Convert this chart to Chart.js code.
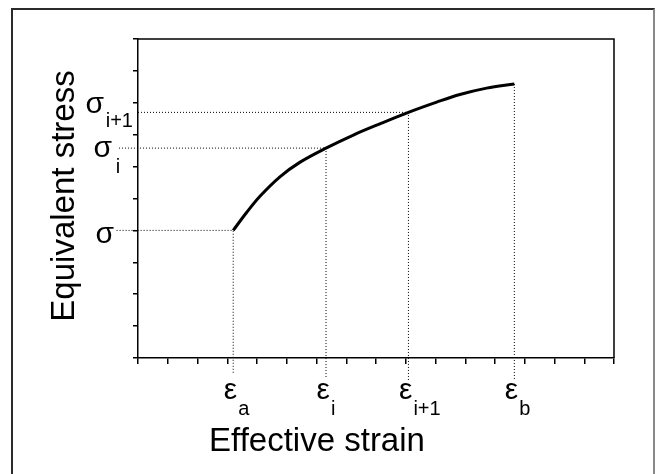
<!DOCTYPE html>
<html><head><meta charset="utf-8">
<script src="https://cdn.jsdelivr.net/npm/chart.js@4.4.0/dist/chart.umd.min.js"></script>
<style>
html,body{margin:0;padding:0;background:#fff;}
#wrap{position:relative;width:656px;height:474px;overflow:hidden;background:#fff;}
#frame{position:absolute;left:11px;top:8px;width:644px;height:480px;border:2px solid #2a2a2a;border-right-color:#888;box-sizing:border-box;}
canvas{position:absolute;left:0;top:0;}
</style></head><body>
<div id="wrap"><div id="frame"></div><canvas id="c" width="656" height="474"></canvas></div>
<script>
// ---- data ----
const strain = [3.20, 3.65, 4.10, 4.77, 5.45, 6.32, 7.24, 8.13, 9.09, 10.04, 10.82, 11.72, 12.65];
const stress = [4.00, 4.56, 5.07, 5.68, 6.14, 6.58, 6.99, 7.34, 7.70, 8.02, 8.26, 8.46, 8.59];
const strainMarks = [3.20, 6.32, 9.09, 12.65];
const strainSubs = ['a', 'i', 'i+1', 'b'];
const stressMarks = [4.00, 6.58, 7.70];
const stressSubs = ['', 'i', 'i+1'];
const xTitle = 'Effective strain';
const yTitle = 'Equivalent stress';
const xRange = [0, 16];
const yRange = [0, 10];

// ---- styling (guide extents beyond the axes) ----
const guideStartX = [-0.72, -0.64, 0];
const guideEndY = [-0.47, -0.66, -0.7, -0.66];
const FONT = '"Liberation Sans", Arial, sans-serif';

const curve = {
  data: strain.map((x, i) => ({x, y: stress[i]})),
  borderColor: '#000', borderWidth: 3, pointRadius: 0,
  tension: 0.35, fill: false, borderCapStyle: 'butt', borderJoinStyle: 'round'
};
const guides = strainMarks.map((e, k) => {
  const pts = [];
  const s = k < stressMarks.length ? stressMarks[k] : stress[stress.length - 1];
  if (k < stressMarks.length) pts.push({x: guideStartX[k], y: s});
  pts.push({x: e, y: s});
  pts.push({x: e, y: guideEndY[k]});
  return {data: pts, borderColor: '#000', borderWidth: 1, borderDash: [1, 2],
          pointRadius: 0, tension: 0, clip: false, fill: false};
});

const framePlugin = {
  id: 'frame',
  beforeDatasetsDraw(chart) {
    const {ctx, chartArea: a} = chart;
    ctx.save();
    ctx.strokeStyle = '#000'; ctx.lineWidth = 1.5;
    ctx.beginPath();
    ctx.moveTo(a.left, a.top); ctx.lineTo(a.right, a.top); ctx.lineTo(a.right, a.bottom);
    ctx.stroke();
    ctx.restore();
  }
};

const labelPlugin = {
  id: 'labels',
  afterDraw(chart) {
    const ctx = chart.ctx, xs = chart.scales.x, ys = chart.scales.y, a = chart.chartArea;
    ctx.save();
    ctx.fillStyle = '#000'; ctx.textBaseline = 'alphabetic'; ctx.textAlign = 'left';
    strainMarks.forEach((v, k) => {
      const px = xs.getPixelForValue(v);
      ctx.font = '30px ' + FONT;
      ctx.fillText('\u03B5', px - 9.5, a.bottom + 41);
      ctx.font = '20px ' + FONT;
      ctx.fillText(strainSubs[k], px + 5, a.bottom + 57);
    });
    const off = [[-42.5, 13, 0, 0], [-44.5, 9, -22.3, 25], [-52.5, 1, -32.3, 15]];
    stressMarks.forEach((v, k) => {
      const py = ys.getPixelForValue(v);
      const o = off[k];
      ctx.font = '30px ' + FONT;
      ctx.fillText('\u03C3', a.left + o[0], py + o[1]);
      if (stressSubs[k]) {
        ctx.font = '20px ' + FONT;
        ctx.fillText(stressSubs[k], a.left + o[2], py + o[3]);
      }
    });
    ctx.font = '33px ' + FONT;
    ctx.textAlign = 'center';
    ctx.fillText(xTitle, a.left + 179, a.bottom + 93);
    ctx.translate(a.left - 64, a.top + 157);
    ctx.rotate(-Math.PI / 2);
    ctx.fillText(yTitle, 0, 0);
    ctx.restore();
  }
};

new Chart(document.getElementById('c'), {
  type: 'line',
  data: {datasets: [curve, ...guides]},
  options: {
    responsive: false, animation: false, devicePixelRatio: 1,
    layout: {padding: {top: 39, right: 42, left: 0, bottom: 0}},
    plugins: {legend: {display: false}, tooltip: {enabled: false}},
    scales: {
      x: {
        type: 'linear', min: xRange[0], max: xRange[1],
        afterFit(s) { s.height = 116; },
        ticks: {stepSize: 1, autoSkip: false, maxRotation: 0, callback: () => ''},
        grid: {drawOnChartArea: false, drawTicks: true, tickLength: 6, color: '#000', tickColor: '#000', lineWidth: 1.5},
        border: {display: true, color: '#000', width: 1.5}
      },
      y: {
        type: 'linear', min: yRange[0], max: yRange[1],
        afterFit(s) { s.width = 138; },
        ticks: {stepSize: 1, autoSkip: false, callback: () => ''},
        grid: {drawOnChartArea: false, drawTicks: true, tickLength: 5, color: '#000', tickColor: '#000', lineWidth: 1.5},
        border: {display: true, color: '#000', width: 1.5}
      }
    }
  },
  plugins: [framePlugin, labelPlugin]
});
</script>
</body></html>
